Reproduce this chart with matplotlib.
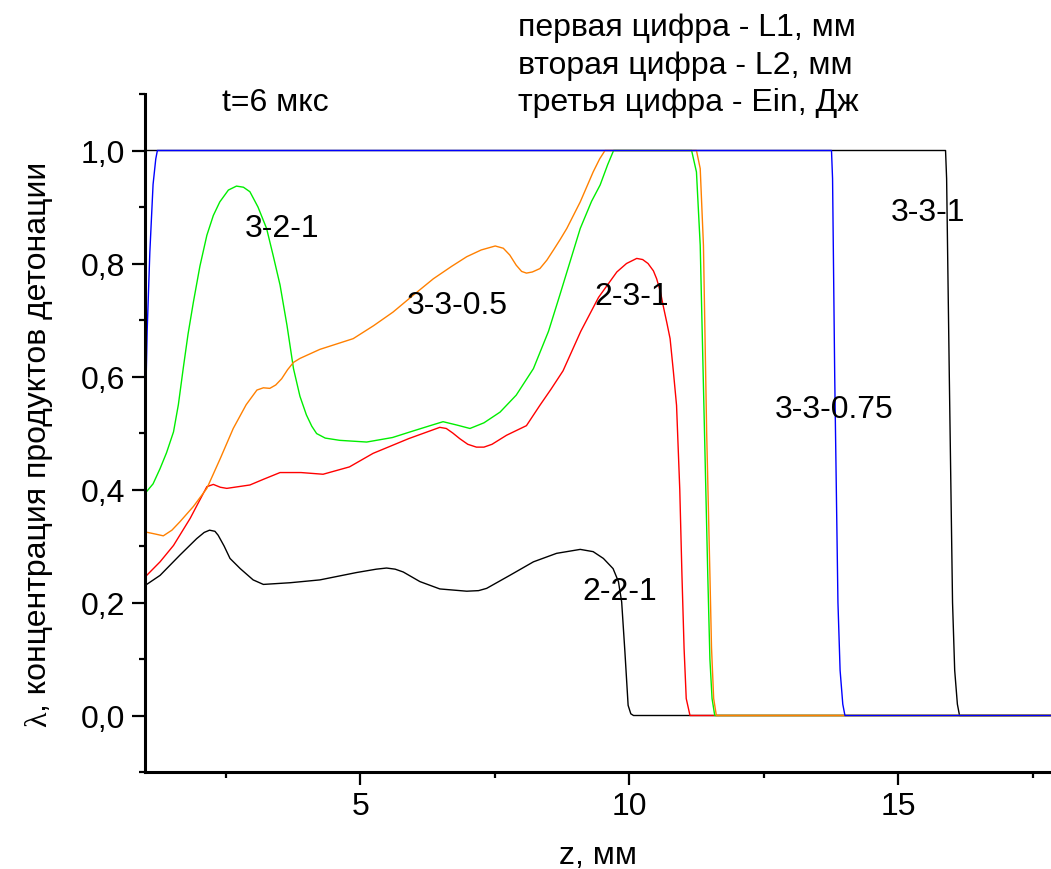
import matplotlib
matplotlib.use("Agg")
import matplotlib.pyplot as plt
from matplotlib.ticker import MultipleLocator, FuncFormatter

plt.rcParams['font.family'] = ['Liberation Sans', 'DejaVu Sans']
FS = 23

# curves: z (mm) and lambda
z_221 = [1.0, 1.28, 1.65, 1.96, 2.1, 2.2, 2.3, 2.36, 2.47, 2.58, 2.77, 3.01, 3.2, 3.7, 4.25, 4.93,
         5.3, 5.49, 5.65, 5.8, 6.11, 6.48, 6.98, 7.2, 7.35, 7.78, 8.22, 8.65, 9.09, 9.33, 9.52, 9.7,
         9.8, 9.86, 9.92, 9.98, 10.03, 10.08, 18.0]
l_221 = [0.23, 0.248, 0.284, 0.313, 0.324, 0.328, 0.326, 0.319, 0.3, 0.278, 0.26, 0.24, 0.232,
         0.235, 0.24, 0.253, 0.259, 0.261, 0.259, 0.254, 0.237, 0.224, 0.22, 0.221, 0.225, 0.248,
         0.272, 0.287, 0.294, 0.29, 0.278, 0.26, 0.237, 0.201, 0.113, 0.018, 0.003, 0.0, 0.0]

z_231 = [1.0, 1.28, 1.53, 1.84, 2.0, 2.15, 2.27, 2.4, 2.52, 2.95, 3.2, 3.51, 3.9, 4.31, 4.8, 5.24,
         5.9, 6.48, 6.6, 6.72, 6.85, 7.0, 7.16, 7.3, 7.45, 7.72, 8.09, 8.34, 8.55, 8.77, 9.1, 9.43,
         9.77, 9.95, 10.14, 10.25, 10.35, 10.45, 10.51, 10.58, 10.63, 10.7, 10.76, 10.82, 10.88,
         10.94, 10.98, 11.02, 11.06, 11.13, 18.0]
l_231 = [0.245, 0.272, 0.301, 0.349, 0.378, 0.405, 0.409, 0.404, 0.402, 0.408, 0.418, 0.43, 0.43,
         0.427, 0.44, 0.464, 0.49, 0.51, 0.508, 0.5, 0.49, 0.48, 0.475, 0.475, 0.48, 0.496, 0.513,
         0.549, 0.578, 0.61, 0.68, 0.74, 0.785, 0.80, 0.809, 0.807, 0.80, 0.787, 0.773, 0.75, 0.726,
         0.695, 0.667, 0.61, 0.549, 0.40, 0.25, 0.119, 0.03, 0.0, 0.0]

z_321 = [1.0, 1.15, 1.28, 1.4, 1.53, 1.62, 1.71, 1.8, 1.9, 2.02, 2.15, 2.27, 2.39, 2.55, 2.7, 2.83,
         2.95, 3.1, 3.26, 3.38, 3.51, 3.64, 3.76, 3.88, 4.0, 4.1, 4.19, 4.35, 4.62, 5.12, 5.6, 5.93,
         6.3, 6.54, 6.8, 7.04, 7.3, 7.6, 7.9, 8.22, 8.5, 8.71, 9.09, 9.3, 9.46, 9.6, 9.71, 11.16,
         11.25, 11.32, 11.4, 11.46, 11.5, 11.54, 11.59, 18.0]
l_321 = [0.393, 0.41, 0.437, 0.465, 0.502, 0.55, 0.614, 0.675, 0.732, 0.795, 0.85, 0.885, 0.909,
         0.93, 0.937, 0.935, 0.927, 0.9, 0.862, 0.815, 0.762, 0.69, 0.614, 0.565, 0.532, 0.512,
         0.499, 0.491, 0.487, 0.484, 0.492, 0.502, 0.513, 0.52, 0.514, 0.508, 0.518, 0.537, 0.567,
         0.614, 0.68, 0.744, 0.862, 0.91, 0.939, 0.975, 1.0, 1.0, 0.962, 0.832, 0.5, 0.25, 0.1,
         0.03, 0.0, 0.0]

z_3305 = [1.0, 1.2, 1.34, 1.5, 1.65, 1.9, 2.15, 2.4, 2.64, 2.88, 3.08, 3.2, 3.32, 3.43, 3.54, 3.65,
          3.76, 3.88, 4.25, 4.87, 5.25, 5.61, 6.0, 6.36, 6.7, 6.98, 7.25, 7.51, 7.66, 7.78, 7.9, 8.0,
          8.09, 8.2, 8.34, 8.47, 8.6, 8.72, 8.84, 9.09, 9.33, 9.45, 9.55, 11.25, 11.32, 11.38, 11.44,
          11.5, 11.53, 11.57, 11.62, 18.0]
l_3305 = [0.325, 0.321, 0.318, 0.328, 0.343, 0.37, 0.402, 0.455, 0.508, 0.55, 0.576, 0.58, 0.579,
          0.585, 0.596, 0.612, 0.625, 0.632, 0.648, 0.667, 0.69, 0.714, 0.745, 0.773, 0.795, 0.812,
          0.824, 0.831, 0.827, 0.815, 0.797, 0.786, 0.783, 0.785, 0.791, 0.806, 0.825, 0.843, 0.862,
          0.909, 0.962, 0.985, 1.0, 1.0, 0.968, 0.832, 0.5, 0.25, 0.12, 0.03, 0.0, 0.0]

z_33075 = [1.0, 1.04, 1.09, 1.15, 1.2, 1.23, 13.76, 13.78, 13.82, 13.88, 13.92, 13.97, 14.01, 18.0]
l_33075 = [0.5, 0.68, 0.82, 0.94, 0.985, 1.0, 1.0, 0.95, 0.6, 0.2, 0.08, 0.02, 0.0, 0.0]

z_331 = [1.0, 15.88, 15.9, 15.95, 16.01, 16.05, 16.1, 16.14, 18.0]
l_331 = [1.0, 1.0, 0.95, 0.6, 0.2, 0.08, 0.02, 0.0, 0.0]

labels = ['3-2-1', '3-3-0.5', '2-3-1', '3-3-0.75', '3-3-1', '2-2-1']
label_x = [2.86, 5.87, 9.35, 12.7, 14.86, 9.13]
label_y = [0.862, 0.726, 0.742, 0.543, 0.892, 0.221]

header = ['первая цифра - L1, мм', 'вторая цифра - L2, мм', 'третья цифра - Ein, Дж']

fig = plt.figure(figsize=(10.51, 8.70), dpi=100)
ax = fig.add_axes([145 / 1051, 97 / 870, 906 / 1051, 678 / 870])

lw = 1.0
ax.plot(z_331, l_331, color='black', lw=lw)
ax.plot(z_221, l_221, color='black', lw=lw)
ax.plot(z_231, l_231, color='#ff0000', lw=lw)
ax.plot(z_321, l_321, color='#00ee00', lw=lw)
ax.plot(z_3305, l_3305, color='#ff8000', lw=lw)
ax.plot(z_33075, l_33075, color='#0000ff', lw=lw)

ax.set_xlim(1, 1 + 906 / 53.8)
ax.set_ylim(-0.1, 1.1)

for s in ['top', 'right']:
    ax.spines[s].set_visible(False)
for s in ['left', 'bottom']:
    ax.spines[s].set_linewidth(2.2)

ax.xaxis.set_major_locator(MultipleLocator(5))
ax.xaxis.set_minor_locator(MultipleLocator(2.5))
ax.yaxis.set_major_locator(MultipleLocator(0.2))
ax.yaxis.set_minor_locator(MultipleLocator(0.1))
ax.yaxis.set_major_formatter(FuncFormatter(lambda v, p: f'{v:.1f}'.replace('.', ',').replace('-0,0', '0,0')))
ax.tick_params(which='major', direction='out', length=9.5, width=1.6, labelsize=FS)
ax.tick_params(which='minor', direction='out', length=4.5, width=1.6)
ax.tick_params(axis='y', which='major', pad=5)
ax.tick_params(axis='x', which='major', pad=4)

for t, x, y in zip(labels, label_x, label_y):
    ax.text(x, y, t, fontsize=FS, ha='left', va='center')

ax.text(2.43, 1.085, 't=6 мкс', fontsize=FS, ha='left', va='center', clip_on=False)
for t, y in zip(header, [1.219, 1.152, 1.085]):
    ax.text(7.93, y, t, fontsize=FS, ha='left', va='center', clip_on=False)

fig.text(598 / 1051, (870 - 856) / 870, 'z, мм', fontsize=FS, ha='center', va='center')

# y label: serif lambda, then the rest of the text
lam = fig.text(46 / 1051, (870 - 727) / 870, 'λ', fontsize=FS, family='Liberation Serif',
               rotation=90, rotation_mode='anchor', ha='left', va='baseline')
fig.canvas.draw()
bb = lam.get_window_extent()
fig.text(46 / 1051, bb.y1 / 870, ', концентрация продуктов детонации', fontsize=FS,
         rotation=90, rotation_mode='anchor', ha='left', va='baseline')

fig.savefig('out.png', dpi=100)
